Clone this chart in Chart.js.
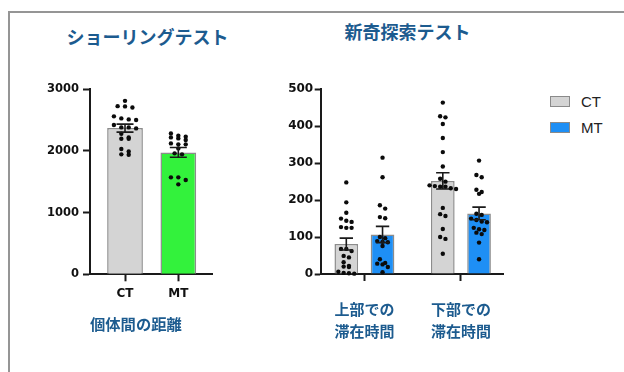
<!DOCTYPE html>
<html>
<head>
<meta charset="utf-8">
<script src="https://cdn.jsdelivr.net/npm/chart.js@4.4.1/dist/chart.umd.min.js"></script>
<style>
  html, body { margin: 0; padding: 0; background: #fff; }
  body { width: 624px; height: 372px; overflow: hidden; position: relative; }
  .frame { position: absolute; left: 8px; top: 11px; width: 700px; height: 500px;
           border-top: 2px solid #959595; border-left: 2px solid #959595; }
  canvas { position: absolute; top: 0; }
  #shoal { left: 0; }
  #novelty { left: 240px; }
  .chart-title { position: absolute; width: 200px; text-align: center; line-height: 22px;
                 font: bold 18px "Noto Sans CJK JP", sans-serif; color: #1c5b8f; white-space: nowrap; }
  .legend-item { position: absolute; left: 550px; height: 20px; display: flex; align-items: center;
                 font: 15px "Liberation Sans", Arial, sans-serif; color: #222; }
  .legend-box { width: 20px; height: 11px; box-sizing: border-box; border: 1px solid #8a8a8a; margin-right: 11px; }
</style>
</head>
<body>
<div class="frame"></div>
<div class="chart-title" style="left:47.5px; top:23px;">ショーリングテスト</div>
<div class="chart-title" style="left:307.5px; top:17.7px;">新奇探索テスト</div>
<canvas id="shoal" width="213" height="372"></canvas>
<canvas id="novelty" width="268" height="372"></canvas>
<div id="novelty-legend"></div>

<script>
// ---- Shoaling test: inter-individual distance ----
const shoalGroups = ['CT', 'MT'];
const shoalMeans = [2371, 1977];
const shoalSem = [65, 80];
const shoalCT = [2813, 2727, 2723, 2706, 2561, 2528, 2512, 2501, 2420, 2382,
                 2382, 2366, 2279, 2220, 2198, 2198, 2031, 1993, 1945, 1938];
const shoalMT = [2285, 2247, 2231, 2220, 2204, 2177, 2123, 2107, 2107, 2042,
                 1961, 1945, 1572, 1572, 1528, 1459];
const shoalTicks = [0, 1000, 2000, 3000];

// ---- Novelty test: time spent in upper / lower zone ----
const noveltyZones = [['上部での', '滞在時間'], ['下部での', '滞在時間']];
const noveltyCTMeans = [81, 252];
const noveltyMTMeans = [107, 164];
const noveltyCTSem = [16, 22];
const noveltyMTSem = [22, 17];
const noveltyCTUpper = [248, 194, 166, 150, 144, 141, 127, 125, 125, 68, 68,
                        62, 49, 45, 32, 22, 20, 19, 6, 3, 2, 1];
const noveltyCTLower = [464, 427, 424, 406, 368, 330, 291, 258, 250, 240, 238,
                        236, 236, 232, 230, 179, 162, 157, 122, 100, 95, 55];
const noveltyMTUpper = [315, 262, 186, 177, 154, 151, 100, 97, 89, 87, 86, 76,
                        40, 30, 28, 26, 19, 5];
const noveltyMTLower = [307, 268, 262, 228, 222, 217, 163, 160, 150, 146, 142,
                        140, 125, 121, 119, 112, 108, 85, 40];
const noveltyTicks = [0, 100, 200, 300, 400, 500];

// ---- styling ----
const TITLE_BLUE = '#1c5b8f';
const AXIS = '#1a1a1a';
const CT_FILL = '#d4d4d4';
const MT_GREEN = '#33f23c';
const MT_BLUE = '#1e8ff5';
const BAR_EDGE = '#8c8c8c';
const CJK = "'Noto Sans CJK JP', sans-serif";
const NUM = "'DejaVu Sans', sans-serif";

// Spread individual points of one bar into symmetric rows (beeswarm style).
function swarmOffsets(pixYs, spacing, rowGap) {
  const order = pixYs.map((_, i) => i).sort((a, b) => pixYs[a] - pixYs[b]);
  const out = new Array(pixYs.length).fill(0);
  let row = [];
  const flush = () => {
    row.forEach((idx, k) => { out[idx] = (k - (row.length - 1) / 2) * spacing; });
    row = [];
  };
  order.forEach(idx => {
    if (row.length && pixYs[idx] - pixYs[row[0]] > rowGap) flush();
    row.push(idx);
  });
  flush();
  return out;
}

// Draws each animal's value as a dot and the mean ± SEM whisker over every bar.
const dotsAndErrors = {
  id: 'dotsAndErrors',
  afterDatasetsDraw(chart, args, opts) {
    const ctx = chart.ctx;
    const yScale = chart.scales.y;
    ctx.save();
    chart.data.datasets.forEach((ds, di) => {
      const meta = chart.getDatasetMeta(di);
      meta.data.forEach((bar, i) => {
        const vals = ds.points[i];
        const ys = vals.map(v => yScale.getPixelForValue(v));
        const offs = swarmOffsets(ys, opts.spacing, opts.rowGap);
        ctx.fillStyle = '#0b0b0b';
        ys.forEach((py, k) => {
          ctx.beginPath();
          ctx.arc(bar.x + offs[k], py, opts.radius, 0, Math.PI * 2);
          ctx.fill();
        });
        const mean = ds.data[i].y;
        const hi = yScale.getPixelForValue(mean + ds.sem[i]);
        const lo = yScale.getPixelForValue(mean - ds.sem[i]);
        const cx = bar.x, w = opts.capHalf;
        ctx.strokeStyle = AXIS;
        ctx.lineWidth = 1.6;
        ctx.beginPath();
        ctx.moveTo(cx, hi); ctx.lineTo(cx, lo);
        ctx.moveTo(cx - w, hi); ctx.lineTo(cx + w, hi);
        ctx.moveTo(cx - w, lo); ctx.lineTo(cx + w, lo);
        ctx.stroke();
      });
    });
    ctx.restore();
  }
};

function axisLook(tickLen) {
  return {
    border: { display: true, color: AXIS, width: 2 },
    grid: { display: true, offset: false, drawOnChartArea: false, drawTicks: true,
            tickLength: tickLen, tickWidth: 2, tickColor: AXIS }
  };
}

// ---- left chart ----
new Chart(document.getElementById('shoal'), {
  type: 'bar',
  data: {
    datasets: [{
      label: '個体間の距離',
      data: shoalGroups.map((_, i) => ({ x: i, y: shoalMeans[i] })),
      backgroundColor: [CT_FILL, MT_GREEN],
      borderColor: BAR_EDGE,
      borderWidth: 1.5,
      categoryPercentage: 1,
      barPercentage: 0.67,
      points: [shoalCT, shoalMT],
      sem: shoalSem
    }]
  },
  options: {
    responsive: false,
    animation: false,
    events: [],
    layout: { padding: { left: 0, right: 0.3, top: 89.3, bottom: 0 } },
    plugins: {
      legend: { display: false },
      tooltip: { enabled: false },
      dotsAndErrors: { spacing: 7.4, rowGap: 4, radius: 2.2, capHalf: 8.5 }
    },
    scales: {
      x: {
        type: 'linear', min: -0.657, max: 1.645, offset: false,
        afterBuildTicks: s => { s.ticks = shoalGroups.map((_, i) => ({ value: i })); },
        afterFit: s => { s.height = 97.7; },
        ...axisLook(7),
        ticks: {
          callback: v => shoalGroups[v], autoSkip: false, maxRotation: 0,
          font: { family: NUM, weight: 'bold', size: 12 }, color: '#111', padding: 5.5
        },
        title: {
          display: true, align: 'start', text: '個体間の距離', color: TITLE_BLUE,
          font: { family: CJK, weight: 'bold', size: 15.3 },
          padding: { top: 0, bottom: 39 }
        }
      },
      y: {
        min: 0, max: 3000,
        afterBuildTicks: s => { s.ticks = shoalTicks.map(v => ({ value: v })); },
        afterFit: s => { s.width = 90; },
        ...axisLook(7),
        ticks: { callback: v => String(v), font: { family: NUM, weight: 'bold', size: 11.5 }, color: '#111', padding: 4 }
      }
    }
  },
  plugins: [dotsAndErrors]
});

// ---- right chart ----
const novelty = new Chart(document.getElementById('novelty'), {
  type: 'bar',
  data: {
    datasets: [{
      label: 'CT',
      data: noveltyZones.map((_, i) => ({ x: i, y: noveltyCTMeans[i] })),
      backgroundColor: CT_FILL,
      borderColor: BAR_EDGE,
      borderWidth: 1.5,
      categoryPercentage: 0.751,
      barPercentage: 0.653,
      points: [noveltyCTUpper, noveltyCTLower],
      sem: noveltyCTSem
    }, {
      label: 'MT',
      data: noveltyZones.map((_, i) => ({ x: i, y: noveltyMTMeans[i] })),
      backgroundColor: MT_BLUE,
      borderColor: BAR_EDGE,
      borderWidth: 1.5,
      categoryPercentage: 0.751,
      barPercentage: 0.653,
      points: [noveltyMTUpper, noveltyMTLower],
      sem: noveltyMTSem
    }]
  },
  options: {
    responsive: false,
    animation: false,
    events: [],
    layout: { padding: { left: 0, right: 0.3, top: 89.3, bottom: 0 } },
    plugins: {
      legend: { display: false },
      tooltip: { enabled: false },
      dotsAndErrors: { spacing: 5.3, rowGap: 4, radius: 2.2, capHalf: 6.7 }
    },
    scales: {
      x: {
        type: 'linear', min: -0.453, max: 1.438, offset: false,
        afterBuildTicks: s => { s.ticks = noveltyZones.map((_, i) => ({ value: i })); },
        afterFit: s => { s.height = 98; },
        ...axisLook(7),
        ticks: {
          callback: v => noveltyZones[v], autoSkip: false, maxRotation: 0,
          font: { family: CJK, weight: 'bold', size: 15, lineHeight: 1.467 },
          color: TITLE_BLUE, padding: 17
        }
      },
      y: {
        min: 0, max: 500,
        afterBuildTicks: s => { s.ticks = noveltyTicks.map(v => ({ value: v })); },
        afterFit: s => { s.width = 80.7; },
        ...axisLook(6),
        ticks: { callback: v => String(v), font: { family: NUM, weight: 'bold', size: 12 }, color: '#111', padding: 1.5 }
      }
    }
  },
  plugins: [dotsAndErrors]
});

// Legend for the novelty chart, built from its datasets.
(function buildLegend(chart, holder) {
  chart.data.datasets.forEach((ds, i) => {
    const item = document.createElement('div');
    item.className = 'legend-item';
    item.style.top = (91.5 + 26 * i) + 'px';
    const box = document.createElement('span');
    box.className = 'legend-box';
    box.style.background = ds.backgroundColor;
    const text = document.createElement('span');
    text.textContent = ds.label;
    item.appendChild(box);
    item.appendChild(text);
    holder.appendChild(item);
  });
})(novelty, document.getElementById('novelty-legend'));
</script>
</body>
</html>
